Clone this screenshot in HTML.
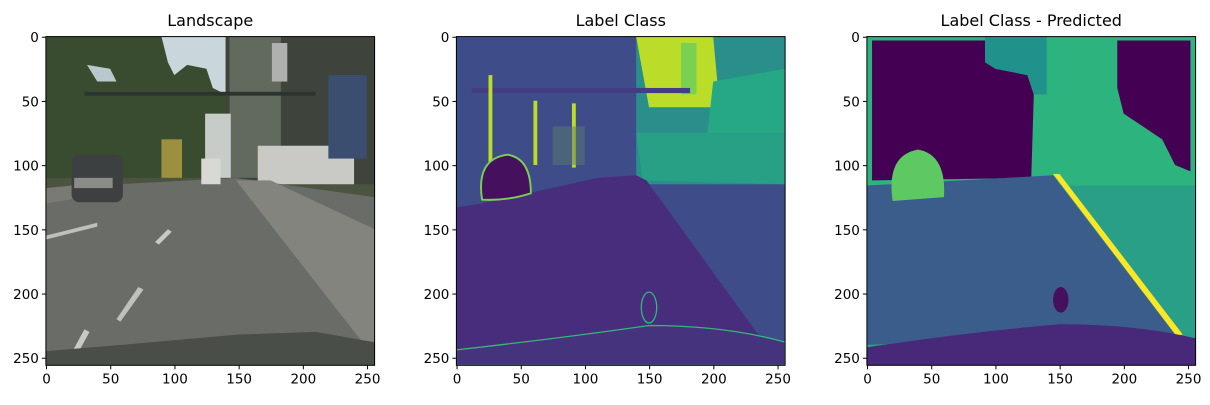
<!DOCTYPE html>
<html><head><meta charset="utf-8"><style>
body{margin:0;background:#fff;width:1210px;height:400px;overflow:hidden;font-family:"Liberation Sans","DejaVu Sans",sans-serif}
</style></head><body>
<svg id="fig" width="1210" height="400" xmlns="http://www.w3.org/2000/svg" font-family="DejaVu Sans, Liberation Sans, sans-serif">
<defs>
<clipPath id="c"><rect x="0" y="0" width="256" height="256"/></clipPath>
</defs>
<!-- Panel 1 -->
<g transform="translate(45.9,36.6) scale(1.284)" clip-path="url(#c)">
<rect width="256" height="256" fill="#4a5440"/>
<rect x="0" y="0" width="140" height="110" fill="#3a4c30"/>
<polygon points="90,0 140,0 140,45 130,40 125,25 110,22 100,30 95,20" fill="#c9d6dc"/>
<polygon points="32,22 50,25 55,35 40,35" fill="#b9c8cc"/>
<rect x="140" y="0" width="116" height="115" fill="#3e443c"/>
<rect x="143" y="0" width="40" height="110" fill="#626a5e"/>
<rect x="176" y="5" width="12" height="30" fill="#b0b0b0"/>
<rect x="124" y="60" width="20" height="50" fill="#c8ccc8"/>
<rect x="165" y="85" width="75" height="30" fill="#c9cac6"/>
<rect x="220" y="30" width="30" height="65" fill="#3c4e70"/>
<rect x="30" y="43" width="180" height="3" fill="#2c3430"/>
<polygon points="0,118 148,110 256,125 256,256 0,256" fill="#6a6c68"/>
<polygon points="148,112 175,112 256,150 256,245 252,245" fill="#84847e"/>
<polygon points="0,118 60,112 60,120 0,130" fill="#7a7a74"/>
<polygon points="0,155 40,145 40,148 0,158" fill="#bfc0bb"/>
<polygon points="85,160 95,150 98,152 88,162" fill="#c8c8c4"/>
<polygon points="55,220 72,195 76,197 58,222" fill="#c0c0bc"/>
<polygon points="18,250 30,228 34,230 22,252" fill="#c8c8c4"/>
<rect x="20" y="92" width="40" height="37" rx="6" fill="#3c4040"/>
<rect x="22" y="110" width="30" height="8" fill="#8a8c88"/>
<rect x="121" y="95" width="15" height="20" fill="#d8d8d4"/>
<rect x="90" y="80" width="16" height="30" fill="#9a9040"/>
<polygon points="0,256 0,245 60,240 150,232 210,230 256,238 256,256" fill="#4a4e48"/>
</g>
<!-- Panel 2 -->
<g transform="translate(456.4,36.6) scale(1.284)" clip-path="url(#c)">
<rect width="256" height="256" fill="#3e4d89"/>
<polygon points="140,0 256,0 256,115 140,115" fill="#2a8f8b"/>
<polygon points="140,0 200,0 205,55 150,55" fill="#bcdc2a"/>
<rect x="175" y="5" width="12" height="40" fill="#7ad151"/>
<polygon points="200,35 256,25 256,80 195,80" fill="#26a884"/>
<polygon points="140,75 256,75 256,115 145,112" fill="#27a085"/>
<rect x="12" y="40" width="170" height="4" fill="#433d84"/>
<rect x="25" y="30" width="3" height="70" fill="#bcdc2a"/>
<rect x="60" y="50" width="3" height="50" fill="#bcdc2a"/>
<rect x="90" y="52" width="3" height="50" fill="#bcdc2a"/>
<rect x="75" y="70" width="25" height="30" fill="#5a7a70" opacity="0.5"/>
<polygon points="0,133 20,130 110,110 140,108 148,112 235,232 256,238 256,256 0,256" fill="#472d7b"/>
<path d="M20,127 Q15,95 40,92 Q58,95 58,122 Q40,128 20,127Z" fill="#45105e" stroke="#7ad151" stroke-width="1.5"/>
<path d="M0,244 Q80,235 150,225 Q210,225 256,238 L256,256 L0,256Z" fill="#46337e" stroke="#35b779" stroke-width="1"/>
<ellipse cx="150" cy="211" rx="6" ry="12" fill="none" stroke="#35b779" stroke-width="1"/>
</g>
<!-- Panel 3 -->
<g transform="translate(866.9,36.6) scale(1.284)" clip-path="url(#c)">
<rect width="256" height="256" fill="#2a9f87"/>
<rect x="0" y="0" width="256" height="116" fill="#2db37d"/>
<polygon points="4,3 92,3 92,20 100,25 125,30 130,45 128,110 4,112" fill="#440154"/>
<polygon points="195,3 252,3 252,105 240,100 230,80 215,70 200,60 195,40" fill="#440154"/>
<polygon points="92,0 140,0 140,45 130,45 125,30 100,25 92,20" fill="#21918c"/>
<polygon points="0,116 145,108 240,232 0,240" fill="#3b5d8c"/>
<path d="M20,128 Q15,92 40,88 Q62,92 60,125Z" fill="#5ec962"/>
<polygon points="145,107 150,107 246,232 241,233" fill="#fde725"/>
<path d="M0,242 Q80,230 150,224 Q210,224 256,235 L256,256 L0,256Z" fill="#472879"/>
<ellipse cx="151" cy="205" rx="6" ry="10" fill="#45105e"/>
</g>
<g id="axes"></g>
</svg>
<script>
const titles=["Landscape","Label Class","Label Class - Predicted"];
const tickVals=[0,50,100,150,200,250];
const panelLefts=[45.9,456.4,866.9];
const top0=36.6, sc=1.284, imgN=256;
const NS="http://www.w3.org/2000/svg";
const axes=document.getElementById('axes');
function mk(tag,attrs){const e=document.createElementNS(NS,tag);for(const k in attrs)e.setAttribute(k,attrs[k]);axes.appendChild(e);return e;}
panelLefts.forEach((L,i)=>{
  const fr=mk('rect',{x:L,y:top0,width:imgN*sc,height:imgN*sc,fill:'none',stroke:'#000','stroke-width':1});
  
  
  const t=mk('text',{x:L+imgN*sc/2,y:26,'text-anchor':'middle','font-size':16,fill:'#000'});
  t.textContent=titles[i];
  
  
  tickVals.forEach(v=>{
    const px=L+(v+0.5)*sc, py=top0+(v+0.5)*sc, bot=top0+imgN*sc;
    mk('line',{x1:px,x2:px,y1:bot,y2:bot+4,stroke:'#000'});
    const xl=mk('text',{x:px,y:bot+18,'text-anchor':'middle','font-size':13.5,fill:'#000'});
    xl.textContent=v;
    
    
    mk('line',{x1:L-4,x2:L,y1:py,y2:py,stroke:'#000'});
    const yl=mk('text',{x:L-7,y:py+5,'text-anchor':'end','font-size':13.5,fill:'#000'});
    yl.textContent=v;
    
    
  });
});
</script>
</body></html>
